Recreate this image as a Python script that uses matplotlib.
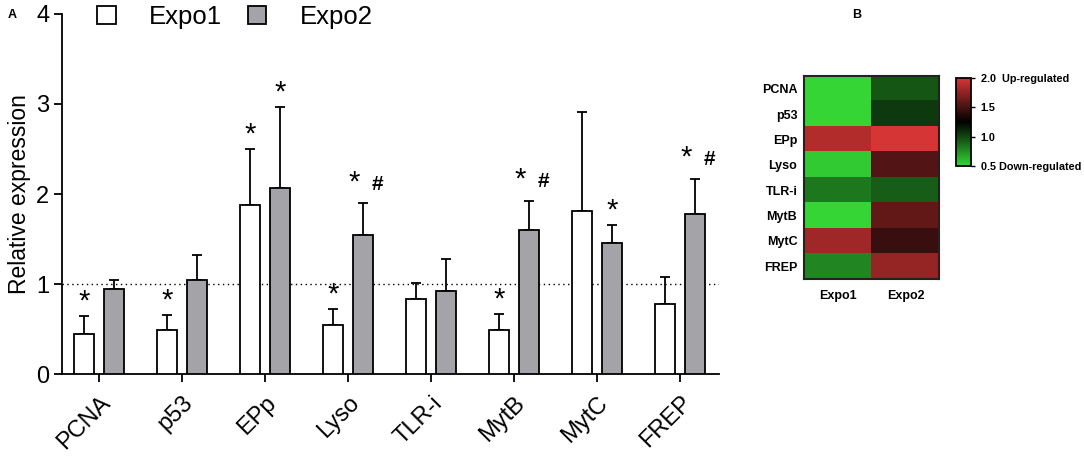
import numpy as np
import matplotlib
matplotlib.use('Agg')
import matplotlib.pyplot as plt
from matplotlib.colors import LinearSegmentedColormap
from matplotlib.patches import Rectangle

plt.rcParams['font.family'] = ['Liberation Sans', 'DejaVu Sans']

genes = ['PCNA', 'p53', 'EPp', 'Lyso', 'TLR-i', 'MytB', 'MytC', 'FREP']
expo1 = [0.45, 0.49, 1.88, 0.54, 0.83, 0.485, 1.81, 0.78]
expo1_err = [0.19, 0.17, 0.62, 0.18, 0.18, 0.18, 1.10, 0.30]
expo2 = [0.95, 1.05, 2.07, 1.54, 0.925, 1.60, 1.455, 1.775]
expo2_err = [0.09, 0.27, 0.90, 0.36, 0.355, 0.325, 0.20, 0.395]
expo1_marks = ['*', '*', '*', '*', '', '*', '', '']
expo2_marks = ['', '', '*', '*#', '', '*#', '*', '*#']
series_names = ['Expo1', 'Expo2']
cbar_ticks = [0.5, 1.0, 1.5, 2.0]
cbar_labels = ['0.5 Down-regulated', '1.0', '1.5', '2.0  Up-regulated']

W, H = 1084, 461
fig = plt.figure(figsize=(W / 100, H / 100), dpi=100)

def fx(px):
    return px / W

def fy(py):
    return 1 - py / H

# ---------------- Panel A ----------------
axA = fig.add_axes([fx(61.7), fy(374), fx(719) - fx(61.7), fy(14) - fy(374)])
x = np.arange(len(genes))
bw = 0.235
off = 0.18
lw = 1.3
axA.bar(x - off, expo1, bw, color='white', edgecolor='black', linewidth=lw, zorder=3)
axA.bar(x + off, expo2, bw, color='#a3a3a8', edgecolor='black', linewidth=lw, zorder=3)
axA.errorbar(x - off, expo1, yerr=[np.zeros(len(x)), expo1_err], fmt='none',
             ecolor='black', elinewidth=1.3, capsize=3.6, capthick=1.3, zorder=2)
axA.errorbar(x + off, expo2, yerr=[np.zeros(len(x)), expo2_err], fmt='none',
             ecolor='black', elinewidth=1.3, capsize=3.6, capthick=1.3, zorder=2)
axA.axhline(1.0, color='black', linestyle=(0, (1, 2.5)), linewidth=1.0, zorder=1)

for i in range(len(genes)):
    top1 = expo1[i] + expo1_err[i]
    top2 = expo2[i] + expo2_err[i]
    if expo1_marks[i] == '*':
        axA.text(x[i] - off, top1 + 0.16, '*', ha='center', va='center', fontsize=21)
    if expo2_marks[i] == '*':
        axA.text(x[i] + off, top2 + 0.16, '*', ha='center', va='center', fontsize=21)
    elif expo2_marks[i] == '*#':
        axA.text(x[i] + off - 0.1, top2 + 0.23, '*', ha='center', va='center', fontsize=21)
        axA.text(x[i] + off + 0.17, top2 + 0.21, '#', ha='center', va='center',
                 fontsize=15, fontweight='bold')

axA.set_xlim(-0.449, 7.47)
axA.set_ylim(0, 4)
axA.set_yticks([0, 1, 2, 3, 4])
axA.set_xticks(x)
axA.set_xticklabels(genes, rotation=45, ha='right', va='top', rotation_mode='anchor')
axA.tick_params(axis='both', labelsize=17, width=1.3, length=6, direction='out')
axA.tick_params(axis='x', pad=7)
axA.tick_params(axis='y', pad=3)
for s in ['top', 'right']:
    axA.spines[s].set_visible(False)
for s in ['left', 'bottom']:
    axA.spines[s].set_linewidth(1.3)
axA.set_ylabel('Relative expression', fontsize=16.5, labelpad=4)

handles = [Rectangle((0, 0), 1, 1, facecolor='white', edgecolor='black', linewidth=1.3),
           Rectangle((0, 0), 1, 1, facecolor='#a3a3a8', edgecolor='black', linewidth=1.3)]
fig.legend(handles, series_names, loc='center left', bbox_to_anchor=(fx(97), fy(17)),
           ncol=2, frameon=False, fontsize=18.5, handlelength=0.72, handleheight=0.72,
           handletextpad=1.3, columnspacing=1.0, borderpad=0, borderaxespad=0)

fig.text(fx(12), fy(15), 'A', fontsize=9, fontweight='bold', ha='center', va='center')

# ---------------- Panel B ----------------
cmap = LinearSegmentedColormap.from_list('gbr', [(0.0, '#35d535'), (0.5, '#000000'), (1.0, '#d53535')])
axB = fig.add_axes([fx(804.3), fy(279), fx(939.3) - fx(804.3), fy(76) - fy(279)])
data = np.column_stack([expo1, expo2])
im = axB.imshow(data, cmap=cmap, vmin=0.5, vmax=2.0, aspect='auto', interpolation='nearest')
axB.set_yticks(np.arange(len(genes)))
axB.set_yticklabels(genes, fontsize=9, fontweight='bold')
axB.set_xticks([0, 1])
axB.set_xticklabels(series_names, fontsize=9, fontweight='bold')
axB.tick_params(length=0, pad=5)
axB.tick_params(axis='x', pad=8)
for s in axB.spines.values():
    s.set_linewidth(1.5)
    s.set_color('#222222')

cax = fig.add_axes([fx(956), fy(166), fx(971) - fx(956), fy(78) - fy(166)])
cb = fig.colorbar(im, cax=cax)
cb.set_ticks(cbar_ticks)
cb.set_ticklabels(cbar_labels)
cb.ax.tick_params(labelsize=7.8, length=3, width=1, pad=4)
for lbl in cb.ax.get_yticklabels():
    lbl.set_fontweight('bold')
cb.outline.set_linewidth(1.3)

fig.text(fx(857), fy(15), 'B', fontsize=9, fontweight='bold', ha='center', va='center')

fig.savefig('out.png', dpi=100)
